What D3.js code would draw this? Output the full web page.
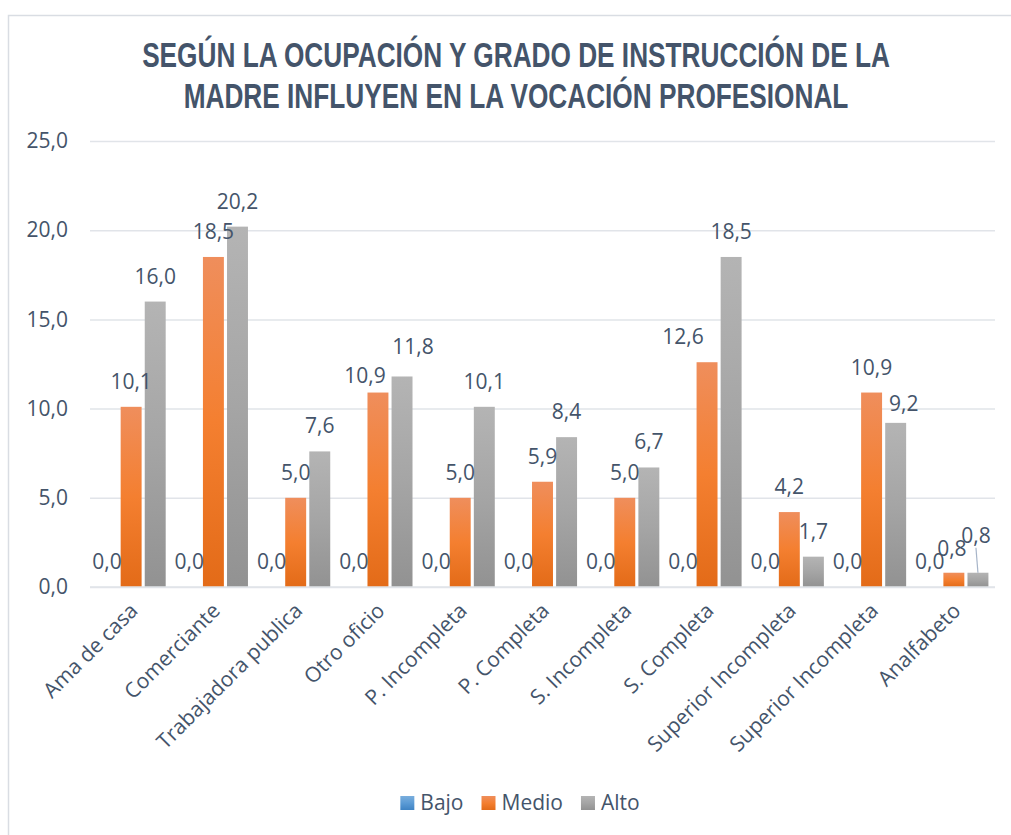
<!DOCTYPE html>
<html>
<head>
<meta charset="utf-8">
<script src="https://cdn.jsdelivr.net/npm/d3@7"></script>
<style>
  body { margin: 0; background: #fff; }
  text { font-family: "Open Sans", "Noto Sans", sans-serif; }
</style>
</head>
<body>
<div id="chart"></div>
<script>
// data
var categories = ["Ama de casa", "Comerciante", "Trabajadora publica", "Otro oficio",
    "P. Incompleta", "P. Completa", "S. Incompleta", "S. Completa",
    "Superior Incompleta", "Superior Incompleta ", "Analfabeto"];
var series = ["Bajo", "Medio", "Alto"];
var bajo  = [0, 0, 0, 0, 0, 0, 0, 0, 0, 0, 0];
var medio = [10.1, 18.5, 5.0, 10.9, 5.0, 5.9, 5.0, 12.6, 4.2, 10.9, 0.8];
var alto  = [16.0, 20.2, 7.6, 11.8, 10.1, 8.4, 6.7, 18.5, 1.7, 9.2, 0.8];
var yTicks = [0, 5, 10, 15, 20, 25];
var title = ["SEGÚN LA OCUPACIÓN Y GRADO DE INSTRUCCIÓN DE LA",
             "MADRE INFLUYEN EN LA VOCACIÓN PROFESIONAL"];

var values = { Bajo: bajo, Medio: medio, Alto: alto };

var width = 1011, height = 835;
var textColor = "#44546A";
var gridColor = "#E1E4E9";

// gradient stops per series (top, middle, bottom)
var fills = {
    Bajo:  ["#7AAEDD", "#5B9BD5", "#3F83C4"],
    Medio: ["#EF8E5C", "#F47F30", "#E36B18"],
    Alto:  ["#B4B4B4", "#A5A5A5", "#929292"]
};

// label nudges (px) where the labels were moved off their default spot
var labelNudge = {
    "3|Medio":  { dx: -13, dy: 8 },
    "3|Alto":   { dx: 11, dy: -4 },
    "7|Medio":  { dx: -24, dy: 0 },
    "9|Alto":   { dx: 8, dy: 6 },
    "10|Medio": { dx: -2, dy: 1 },
    "10|Alto":  { dx: -2, dy: -12, leader: true }
};

var es = d3.formatLocale({ decimal: ",", thousands: ".", grouping: [3], currency: ["", ""] });
var fmt = es.format(".1f");

var svg = d3.select("#chart").append("svg")
    .attr("width", width)
    .attr("height", height);

svg.append("rect")
    .attr("width", width).attr("height", height)
    .attr("fill", "#fff");

// chart frame
svg.append("rect")
    .attr("x", 8.5).attr("y", 15.5)
    .attr("width", width + 10).attr("height", height + 10)
    .attr("fill", "none")
    .attr("stroke", "#D9DDE3")
    .attr("stroke-width", 1.5);

var defs = svg.append("defs");
series.forEach(function (s) {
    var g = defs.append("linearGradient")
        .attr("id", "grad-" + s)
        .attr("x1", 0).attr("y1", 0).attr("x2", 0).attr("y2", 1);
    g.append("stop").attr("offset", "0%").attr("stop-color", fills[s][0]);
    g.append("stop").attr("offset", "50%").attr("stop-color", fills[s][1]);
    g.append("stop").attr("offset", "100%").attr("stop-color", fills[s][2]);
});

/* Title - narrow bold, squeezed horizontally since no narrow font is installed */
var titleG = svg.append("g");
var titleText = titleG.selectAll("text")
    .data(title).enter()
    .append("text")
    .attr("x", 0)
    .attr("y", (d, i) => 67 + i * 41)
    .attr("text-anchor", "middle")
    .style("font-family", "'Liberation Sans', Arial, sans-serif")
    .style("font-weight", "bold")
    .style("font-size", "36px")
    .attr("fill", textColor)
    .text(d => d);
var titleW = titleText.nodes()[0].getComputedTextLength();
var squeeze = 748 / titleW;
titleText.attr("transform", `translate(516,0) scale(${squeeze},1)`);

/* Scales */
var x0 = d3.scaleBand()
    .domain(d3.range(categories.length))
    .range([90, 995])
    .paddingInner(0.16)
    .paddingOuter(0.08);

var x1 = d3.scaleBand()
    .domain(series)
    .range([0, x0.bandwidth()])
    .paddingInner(0.13);

var y = d3.scaleLinear()
    .domain([0, 25])
    .range([587, 141]);

/* Grid + y labels */
var yAxis = d3.axisLeft(y)
    .tickValues(yTicks)
    .tickSize(-(995 - 90))
    .tickPadding(22)
    .tickFormat(fmt);

var yg = svg.append("g")
    .attr("transform", "translate(90,0)")
    .call(yAxis);
yg.select(".domain").remove();
yg.selectAll(".tick line").attr("stroke", gridColor).attr("stroke-width", 1.5);
yg.selectAll(".tick text")
    .attr("fill", textColor)
    .style("font-size", "21px")
    .style("font-family", "'Open Sans', sans-serif");

/* Bars */
var cellData = [];
categories.forEach(function (c, i) {
    series.forEach(function (s) {
        cellData.push({ cat: i, s: s, v: values[s][i] });
    });
});

svg.append("g").selectAll("rect")
    .data(cellData).enter()
    .append("rect")
    .attr("x", d => x0(d.cat) + x1(d.s))
    .attr("width", x1.bandwidth())
    .attr("y", d => y(d.v))
    .attr("height", d => y(0) - y(d.v))
    .attr("fill", d => "url(#grad-" + d.s + ")");

/* Baseline */
svg.append("line")
    .attr("x1", 90).attr("x2", 995)
    .attr("y1", y(0)).attr("y2", y(0))
    .attr("stroke", gridColor)
    .attr("stroke-width", 1.5);

/* Data labels, on top of all bars */
var labels = svg.append("g");
cellData.forEach(function (d) {
    var nudge = labelNudge[d.cat + "|" + d.s] || { dx: 0, dy: 0 };
    var cx = x0(d.cat) + x1(d.s) + x1.bandwidth() / 2;
    var ty = y(d.v) - 18 + nudge.dy;
    if (nudge.leader) {
        labels.append("line")
            .attr("x1", cx + nudge.dx)
            .attr("y1", ty + 5)
            .attr("x2", cx)
            .attr("y2", y(d.v))
            .attr("stroke", "#A6B4C8")
            .attr("stroke-width", 1.2);
    }
    labels.append("text")
        .attr("x", cx + nudge.dx)
        .attr("y", ty)
        .attr("text-anchor", "middle")
        .attr("fill", textColor)
        .style("font-size", "21px")
        .text(fmt(d.v));
});

/* X labels */
svg.append("g").selectAll("text")
    .data(categories).enter()
    .append("text")
    .attr("transform", (d, i) => `translate(${x0(i) + x0.bandwidth() / 2 + 8},${612}) rotate(-45)`)
    .attr("text-anchor", "end")
    .attr("fill", textColor)
    .style("font-size", "21px")
    .text(d => d.trim());

/* Legend */
var legend = svg.append("g");
var lx = 0;
series.forEach(function (s) {
    var item = legend.append("g").attr("transform", `translate(${lx},0)`);
    item.append("rect")
        .attr("x", 0).attr("y", -14)
        .attr("width", 14).attr("height", 14)
        .attr("fill", "url(#grad-" + s + ")");
    var t = item.append("text")
        .attr("x", 20).attr("y", 0)
        .attr("fill", textColor)
        .style("font-size", "21px")
        .text(s);
    lx += 20 + t.node().getComputedTextLength() + 18;
});
var legendW = lx - 18;
legend.attr("transform", `translate(${520 - legendW / 2},810)`);
</script>
</body>
</html>
